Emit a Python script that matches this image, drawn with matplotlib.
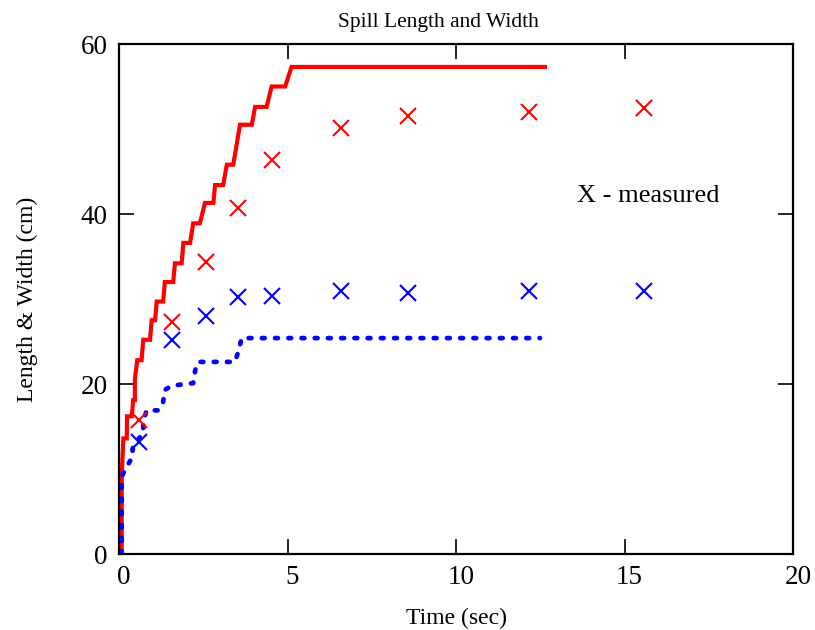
import numpy as np
import matplotlib
matplotlib.use('Agg')
import matplotlib.pyplot as plt
from matplotlib.transforms import ScaledTranslation

plt.rcParams['font.family'] = ['Liberation Serif', 'DejaVu Serif']

# Measured points (time in sec, size in cm)
meas_t = [0.58, 1.57, 2.58, 3.54, 4.55, 6.59, 8.58, 12.17, 15.58]
meas_length = [15.8, 27.3, 34.4, 40.7, 46.4, 50.1, 51.5, 52.0, 52.5]
meas_width = [13.2, 25.2, 28.0, 30.2, 30.4, 30.9, 30.7, 30.9, 30.9]

# Computed length (stepped curve)
calc_t_len = [0.08, 0.08, 0.13, 0.23, 0.24, 0.38, 0.42, 0.47, 0.47, 0.54, 0.67,
              0.72, 0.92, 0.97, 1.07, 1.12, 1.31, 1.36, 1.61, 1.66, 1.86, 1.91,
              2.11, 2.20, 2.40, 2.55, 2.80, 2.85, 3.09, 3.20, 3.39, 3.59, 3.94,
              4.04, 4.38, 4.53, 4.93, 5.12, 12.64]
calc_len = [0.0, 9.1, 13.6, 13.6, 16.2, 16.2, 18.1, 18.1, 20.5, 22.8, 22.8,
            25.2, 25.2, 27.5, 27.5, 29.7, 29.7, 32.0, 32.0, 34.2, 34.2, 36.6,
            36.6, 38.9, 38.9, 41.3, 41.3, 43.4, 43.4, 45.8, 45.8, 50.5, 50.5,
            52.6, 52.6, 55.0, 55.0, 57.3, 57.3]

# Computed width (stepped curve)
calc_t_wid = [0.08, 0.08, 0.18, 0.38, 0.42, 0.72, 0.72, 0.82, 1.17, 1.31, 1.36,
              1.56, 2.20, 2.26, 2.35, 3.44, 3.54, 3.64, 12.49]
calc_wid = [0.0, 9.1, 9.9, 11.3, 12.8, 14.2, 15.6, 16.9, 16.9, 17.9, 19.3,
            19.8, 20.1, 21.6, 22.6, 22.6, 23.8, 25.4, 25.4]

fig = plt.figure(figsize=(8.15, 6.3), dpi=100)
ax = fig.add_axes([119/815, 76/630, 674/815, 510/630])

ax.plot(calc_t_len, calc_len, '-', color='#ff0000', lw=3.0, solid_joinstyle='miter')
ax.plot(calc_t_wid, calc_wid, color='#0000ff', lw=3.4,
        linestyle=(0, (0.6, 2.2)), dash_capstyle='round')
ax.plot(meas_t, meas_length, 'x', color='#ff0000', ms=12, mew=1.5)
ax.plot(meas_t, meas_width, 'x', color='#0000ff', ms=12, mew=1.5)

ax.set_xlim(0, 20)
ax.set_ylim(0, 60)
ax.set_xticks([0, 5, 10, 15, 20])
ax.set_yticks([0, 20, 40, 60])
ax.tick_params(direction='in', length=11, width=1.2, top=True, right=True,
               labelsize=19.5, pad=8)
for s in ax.spines.values():
    s.set_linewidth(1.6)

# gnuplot-ish: x tick labels sit a little right of their ticks
shift = ScaledTranslation(5/100, 0, fig.dpi_scale_trans)
for lab in ax.get_xticklabels():
    lab.set_transform(lab.get_transform() + shift)

ax.set_xlabel('Time (sec)', fontsize=17, labelpad=13)
ax.set_ylabel('Length & Width (cm)', fontsize=17, labelpad=31)
fig.text(438/815, 1 - 27/630, 'Spill Length and Width', fontsize=15.5,
         ha='center', va='baseline')
ax.text(13.6, 41.4, 'X - measured', fontsize=19, va='baseline')

fig.savefig('out.png', dpi=100)
